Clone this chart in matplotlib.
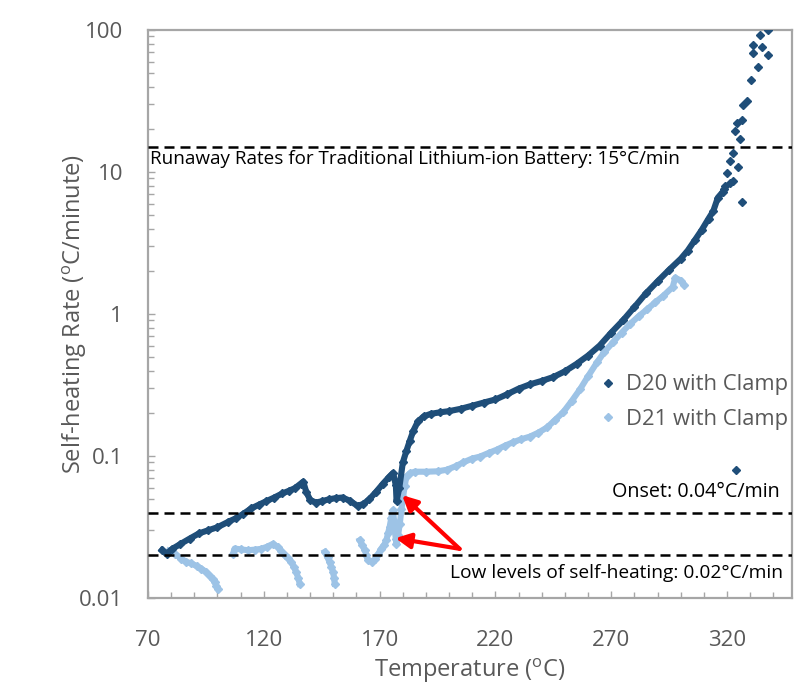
import numpy as np
import matplotlib
matplotlib.use("Agg")
import matplotlib.pyplot as plt
from matplotlib.ticker import FixedLocator, NullFormatter, FixedFormatter

FONT = ["Open Sans", "DejaVu Sans"]
plt.rcParams['font.family'] = FONT
plt.rcParams['mathtext.fontset'] = 'custom'
plt.rcParams['mathtext.rm'] = 'Open Sans'

# ---------------- data ----------------
d20_temp = [76.0, 78.0, 80.5, 84.0, 88.0, 92.0, 96.0, 100.0, 104.5, 108.0, 111.0, 114.5,
            118.0, 121.0, 124.5, 128.0, 131.0, 133.5, 136.0, 137.0, 138.3, 140.0, 142.5,
            145.0, 148.0, 151.0, 154.0, 157.0, 160.5, 163.0, 165.5, 168.5, 171.5, 174.0,
            175.8, 177.0, 177.3, 178.5, 180.0, 181.5, 183.0, 184.5, 186.5, 189.0, 192.0,
            196.0, 200.0, 205.0, 210.0, 215.0, 220.0, 225.0, 230.0, 235.0, 240.0, 245.0,
            250.0, 255.0, 260.0, 265.0, 270.0, 275.0, 280.0, 285.0, 290.0, 295.0, 300.0,
            303.0, 306.0, 309.0, 312.0, 314.0, 316.0, 318.0]
d20_rate = [0.0217, 0.0205, 0.0222, 0.0240, 0.0262, 0.0285, 0.0300, 0.0315, 0.0343, 0.0365,
            0.0390, 0.0427, 0.0455, 0.0480, 0.0510, 0.0545, 0.0570, 0.0595, 0.0640, 0.0660,
            0.0560, 0.0490, 0.0470, 0.0480, 0.0495, 0.0505, 0.0510, 0.0485, 0.0445, 0.0460,
            0.0495, 0.0560, 0.0640, 0.0710, 0.0760, 0.0620, 0.0480, 0.0600, 0.0900, 0.1080,
            0.1280, 0.1500, 0.1750, 0.1900, 0.1980, 0.2030, 0.2070, 0.2150, 0.2260, 0.2380,
            0.2500, 0.2720, 0.2980, 0.3200, 0.3380, 0.3600, 0.3950, 0.4450, 0.5100, 0.6000,
            0.7400, 0.9000, 1.1200, 1.4000, 1.7000, 2.0500, 2.4500, 2.8000, 3.3000, 3.9000,
            4.7000, 5.3000, 6.6000, 7.2000]
# sparse runaway points of D20
d20_scatter_temp = [318.5, 319.0, 320.0, 321.3, 322.6, 321.3, 322.6, 324.7, 325.6, 323.5,
                    324.3, 326.5, 326.9, 328.6, 330.4, 333.4, 331.2, 337.7, 331.2, 335.1,
                    334.2, 337.7, 326.5, 323.9]
d20_scatter_rate = [7.6, 8.0, 9.8, 8.3, 8.6, 11.9, 13.5, 10.9, 17.0, 19.3,
                    22.0, 23.1, 29.5, 31.5, 44.3, 54.7, 69.0, 66.5, 78.0, 76.0,
                    91.6, 100.0, 6.1, 0.080]

d21_seg1_temp = [79.0, 81.5, 84.4, 86.5, 88.7, 91.0, 93.0, 95.0, 96.6, 98.0, 98.8, 99.5, 100.2]
d21_seg1_rate = [0.0215, 0.0205, 0.0189, 0.0180, 0.0175, 0.0168, 0.0161, 0.0153, 0.0144,
                 0.0135, 0.0129, 0.0122, 0.0116]
d21_seg2_temp = [106.7, 107.4, 110.0, 113.2, 116.0, 118.9, 121.5, 124.0, 126.1, 127.5, 129.0,
                 130.5, 131.9, 133.0, 134.0, 134.8, 135.5]
d21_seg2_rate = [0.0205, 0.0223, 0.0220, 0.0217, 0.0219, 0.0222, 0.0230, 0.0241, 0.0228,
                 0.0214, 0.0200, 0.0190, 0.0179, 0.0165, 0.0152, 0.0139, 0.0126]
d21_seg3_temp = [146.3, 147.5, 148.4, 149.2, 149.9, 150.3, 150.6]
d21_seg3_rate = [0.0211, 0.0193, 0.0179, 0.0165, 0.0152, 0.0139, 0.0126]
d21_seg4_temp = [161.4, 162.5, 163.6, 164.3, 165.0, 166.5, 167.9, 169.3, 170.7, 172.0, 172.9,
                 173.6, 174.3, 175.0, 175.8, 176.2, 176.5, 177.0, 177.2, 178.0, 178.7, 179.4,
                 180.1, 180.8, 181.5, 183.0, 185.1, 190.0, 195.0, 199.0, 203.0, 206.0, 210.0,
                 213.3, 217.0, 220.7, 224.0, 227.6, 231.0, 234.9, 238.5, 242.3, 245.5, 249.2,
                 253.0, 256.5, 260.0, 263.9, 267.0, 270.8, 274.5, 278.1, 282.0, 285.5, 289.0,
                 292.4, 296.5, 297.6, 300.0, 301.5]
d21_seg4_rate = [0.0255, 0.0235, 0.0217, 0.0200, 0.0184, 0.0180, 0.0187, 0.0203, 0.0223,
                 0.0238, 0.0255, 0.0285, 0.0316, 0.0365, 0.0415, 0.0350, 0.0300, 0.0260,
                 0.0241, 0.0280, 0.0334, 0.0420, 0.0515, 0.0610, 0.0715, 0.0755, 0.0775,
                 0.0775, 0.0780, 0.0800, 0.0850, 0.0900, 0.0960, 0.0990, 0.1050, 0.1110,
                 0.1180, 0.1250, 0.1310, 0.1370, 0.1460, 0.1590, 0.1780, 0.2030, 0.2450,
                 0.2950, 0.3650, 0.4580, 0.5400, 0.6340, 0.7400, 0.8500, 0.9700, 1.0800,
                 1.2100, 1.3400, 1.5500, 1.8000, 1.7200, 1.6000]

ref_levels = [15, 0.04, 0.02]
ref_labels = ["Runaway Rates for Traditional Lithium-ion Battery: 15\u00b0C/min",
              "Onset: 0.04\u00b0C/min",
              "Low levels of self-heating: 0.02\u00b0C/min"]

x_ticks = [70, 120, 170, 220, 270, 320]
y_ticks = [0.01, 0.1, 1, 10, 100]
y_tick_labels = ["0.01", "0.1", "1", "10", "100"]

# arrows: heads and common tail (temperature, rate)
arrow_heads = [(179.7, 0.053), (176.8, 0.0264)]
arrow_tail = (204.5, 0.0222)

# ---------------- styling ----------------
C20 = "#1F4E79"
C21 = "#9DC3E6"
GREY = "#595959"
SPINE = "#A6A6A6"

fig = plt.figure(figsize=(7.96, 6.90), dpi=100)
ax = fig.add_axes([148/796, (690-598)/690, (792-148)/796, (598-30)/690])

ax.set_yscale('log')
ax.set_xlim(70, 348)
ax.set_ylim(0.01, 100)

line_kw = dict(linestyle='-', linewidth=4.4, marker='D', markersize=4.2, zorder=3)
ax.plot(d21_seg1_temp, d21_seg1_rate, color=C21, **line_kw)
ax.plot(d21_seg2_temp, d21_seg2_rate, color=C21, **line_kw)
ax.plot(d21_seg3_temp, d21_seg3_rate, color=C21, **line_kw)
ax.plot(d21_seg4_temp, d21_seg4_rate, color=C21, **line_kw)
ax.plot(d20_temp, d20_rate, color=C20, **line_kw)
ax.plot(d20_scatter_temp, d20_scatter_rate, color=C20, linestyle='none', marker='D',
        markersize=4.0, zorder=3)

# legend handles
h20, = ax.plot([], [], color=C20, linestyle='none', marker='D', markersize=4.2)
h21, = ax.plot([], [], color=C21, linestyle='none', marker='D', markersize=4.2)
leg = ax.legend([h20, h21], ["D20 with Clamp", "D21 with Clamp"], loc='center left',
                bbox_to_anchor=(0.672, 0.345), frameon=False, fontsize=15.8,
                handlelength=0.7, handletextpad=0.45, labelspacing=0.62, labelcolor=GREY)

# reference lines
for lv in ref_levels:
    ax.axhline(lv, color='black', linewidth=1.8, dashes=(4, 2.4), zorder=4)

ax.text(70.9, 12.4, ref_labels[0], fontsize=13.6, color='black', ha='left', va='center')
ax.text(342.9, 0.0557, ref_labels[1], fontsize=14.2, color='black', ha='right', va='center')
ax.text(344.2, 0.0149, ref_labels[2], fontsize=13.8, color='black', ha='right', va='center')

for hx, hy in arrow_heads:
    ax.annotate('', xy=(hx, hy), xytext=arrow_tail,
                arrowprops=dict(arrowstyle='-|>,head_length=0.9,head_width=0.45',
                                color='#FF0000', lw=3.0, shrinkA=0, shrinkB=0), zorder=5)

# axes styling
for s in ax.spines.values():
    s.set_color(SPINE)
    s.set_linewidth(1.6)

ax.xaxis.set_major_locator(FixedLocator(x_ticks))
ax.xaxis.set_minor_locator(FixedLocator(list(range(80, 348, 10))))
ax.yaxis.set_major_locator(FixedLocator(y_ticks))
ax.yaxis.set_major_formatter(FixedFormatter(y_tick_labels))
ax.yaxis.set_minor_locator(FixedLocator([m * 10.0**e for e in range(-2, 2) for m in range(2, 10)]))
ax.yaxis.set_minor_formatter(NullFormatter())

ax.tick_params(which='both', direction='in', color=SPINE, width=1.0)
ax.tick_params(which='major', length=5)
ax.tick_params(which='minor', length=4)
ax.tick_params(axis='y', which='major', labelsize=16, labelcolor=GREY, pad=18)
ax.tick_params(axis='x', which='major', labelsize=16, labelcolor=GREY, pad=23)

ax.set_xlabel("Temperature ($^{\\mathrm{o}}$C)", fontsize=17, color=GREY, labelpad=4)
ax.set_ylabel("Self-heating Rate ($^{\\mathrm{o}}$C/minute)", fontsize=17, color=GREY, labelpad=-7)

fig.savefig("out.png", dpi=100)
